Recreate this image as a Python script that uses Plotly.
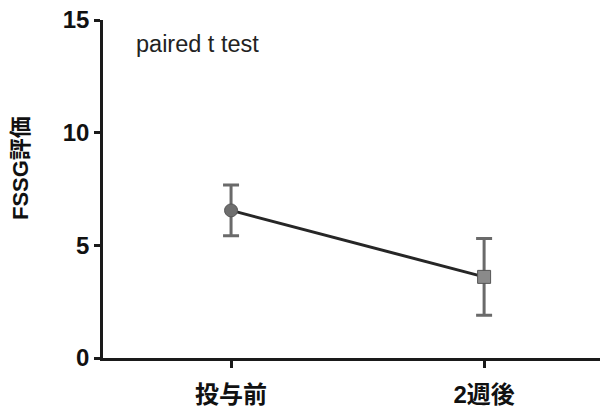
import plotly.graph_objects as go

# FSSG scores before treatment and after 2 weeks (mean ± error)
categories = ["投与前", "2週後"]
means = [6.55, 3.6]
errors = [1.13, 1.7]
marker_symbols = ["circle", "square"]
marker_colors = ["#6e6e6e", "#8a8a8a"]
y_ticks = [0, 5, 10, 15]

x_idx = list(range(len(categories)))

fig = go.Figure()

# connecting line between the two time points
fig.add_trace(go.Scatter(
    x=x_idx, y=means, mode="lines",
    line=dict(color="#262626", width=3),
    showlegend=False, hoverinfo="skip",
))

# each point with its own error bar and marker
for i in x_idx:
    fig.add_trace(go.Scatter(
        x=[i], y=[means[i]], mode="markers",
        marker=dict(symbol=marker_symbols[i], size=13, color=marker_colors[i],
                    line=dict(color="#555555", width=1)),
        error_y=dict(type="data", array=[errors[i]], visible=True,
                     color="#6a6a6a", thickness=3, width=8),
        showlegend=False,
    ))

fig.add_annotation(
    x=0.063, y=0.93, xref="paper", yref="paper",
    text="paired t test", showarrow=False,
    xanchor="left", yanchor="middle",
    font=dict(family="Liberation Sans, Arial", size=23.5, color="#222222"),
)

# y-axis title
fig.add_annotation(
    x=-0.167, y=0.562, xref="paper", yref="paper",
    text="<b>FSSG評価</b>", showarrow=False, textangle=-90,
    xanchor="center", yanchor="middle",
    font=dict(family="Liberation Sans, Noto Sans CJK JP", size=22, color="#111111"),
)

fig.update_layout(
    width=602, height=413,
    margin=dict(l=103, r=2, t=20, b=55),
    paper_bgcolor="white", plot_bgcolor="white",
    font=dict(family="Liberation Sans, Arial", color="#111111"),
)

fig.update_xaxes(
    range=[-0.506, 1.458],
    tickmode="array", tickvals=x_idx, ticktext=[f"<b>{c}</b>" for c in categories],
    tickfont=dict(family="Liberation Sans, Noto Sans CJK JP", size=24, color="#111111"),
    ticklabelstandoff=6,
    showline=True, linecolor="#1a1a1a", linewidth=2.5,
    ticks="outside", ticklen=7, tickwidth=2.5, tickcolor="#1a1a1a",
    showgrid=False, zeroline=False,
)

fig.update_yaxes(
    range=[0, 15],
    tickmode="array", tickvals=y_ticks, ticktext=[f"<b>{v}</b>" for v in y_ticks],
    tickfont=dict(family="Liberation Sans, Arial", size=24, color="#111111"),
    ticklabelstandoff=0,
    showline=True, linecolor="#1a1a1a", linewidth=2.5,
    ticks="outside", ticklen=6, tickwidth=2.5, tickcolor="#1a1a1a",
    showgrid=False, zeroline=False,
)

fig.write_html("out.html")
